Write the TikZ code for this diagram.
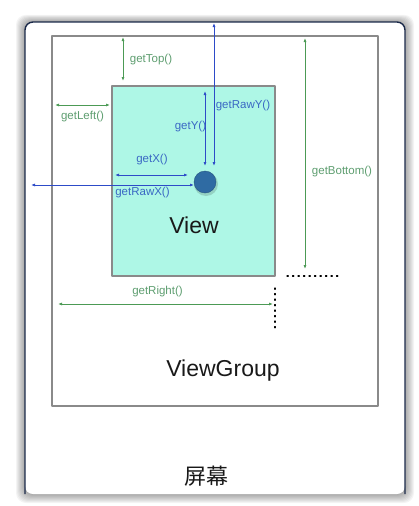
\documentclass[tikz,border=0pt]{standalone}
\usepackage{fontspec}
\setmainfont{Liberation Sans}
\newfontfamily\cjkfont{Noto Sans CJK SC}
\usetikzlibrary{arrows.meta,positioning}
\definecolor{ScreenNavy}{HTML}{1B2A4A}
\definecolor{BoxGray}{HTML}{8A8A8A}
\definecolor{ViewFill}{HTML}{AEF7E6}
\definecolor{TouchBlue}{HTML}{2F6BA3}
\definecolor{DimGreen}{HTML}{4C9A55}
\definecolor{LabelGreen}{HTML}{5E9E70}
\definecolor{DimBlue}{HTML}{2D4BC8}
\definecolor{LabelBlue}{HTML}{3A68C4}

\tikzset{
  dimline/.style={{Latex[length=4pt,width=3pt]}-{Latex[length=4pt,width=3pt]},line width=0.9pt},
  greendim/.style={dimline,DimGreen},
  bluedim/.style={dimline,DimBlue},
  greenlabel/.style={text=LabelGreen,font=\fontsize{11.5}{13}\selectfont,inner sep=1pt},
  bluelabel/.style={text=LabelBlue,font=\fontsize{11.5}{13}\selectfont,inner sep=1pt},
  bigtext/.style={font=\fontsize{23}{26}\selectfont,text=black!90},
  dotline/.style={line width=1.3pt,dash pattern=on 1.3pt off 4.2pt,line cap=round}
}

\begin{document}
\begin{tikzpicture}[x=1pt,y=-1pt,line join=round]
  \useasboundingbox (0,0) rectangle (418,506);
  % screen with soft shadow
  \foreach \s in {1,...,9}{
    \fill[black,opacity=0.045,rounded corners=10] (25-\s,22-0.8*\s) rectangle (405+\s,494+\s);
  }
  \fill[white,rounded corners=8] (25,22) rectangle (405,494);
  \draw[ScreenNavy,line width=1.4pt,rounded corners=8] (25,494) -- (25,22) -- (405,22) -- (405,494);
  % boxes
  \node[draw=BoxGray,line width=1.2pt,fill=white,minimum width=326,minimum height=370,inner sep=0] (vg) at (215,221) {};
  \node[draw=BoxGray,line width=1.2pt,fill=ViewFill,minimum width=163,minimum height=190,inner sep=0] (view) at (193.5,181) {};
  \fill[black,opacity=0.15] (206,184) circle (12);
  \node[circle,fill=TouchBlue,draw=TouchBlue!80!black,line width=0.4pt,minimum size=22,inner sep=0] (touch) at (205,182) {};
  % arrow ends
  \coordinate (topA) at (123,37);\coordinate (topB) at (123,81);
  \coordinate (leftA) at (55,105);\coordinate (leftB) at (110,105);
  \coordinate (rawyA) at (214,23);\coordinate (rawyB) at (214,166);
  \coordinate (yA) at (205,91);\coordinate (yB) at (205,166);
  \coordinate (xA) at (115,175);\coordinate (xB) at (188,175);
  \coordinate (rawxA) at (31,185);\coordinate (rawxB) at (194,185);
  \coordinate (botA) at (305,38);\coordinate (botB) at (305,269);
  \coordinate (rightA) at (58,304);\coordinate (rightB) at (273,304);
  \draw[greendim] (topA) -- (topB);
  \draw[greendim] (leftA) -- (leftB);
  \draw[greendim] (botA) -- (botB);
  \draw[greendim] (rightA) -- (rightB);
  \draw[bluedim] (rawyA) -- (rawyB);
  \draw[bluedim] (yA) -- (yB);
  \draw[bluedim] (xA) -- (xB);
  \draw[bluedim] (rawxA) -- (rawxB);
  % dotted guides
  \draw[dotline] (287,276) -- (341,276);
  \draw[dotline] (275,288) -- (275,330);
  % labels
  \node[greenlabel] (ltop) at (151,60) {getTop()};
  \node[greenlabel] (lleft) at (82.5,117) {getLeft()};
  \node[greenlabel] (lbot) at (342,172) {getBottom()};
  \node[greenlabel] (lright) at (157.5,292) {getRight()};
  \node[bluelabel] (lrawy) at (243,106) {getRawY()};
  \node[bluelabel] (ly) at (190.5,127) {getY()};
  \node[bluelabel] (lx) at (152,160) {getX()};
  \node[bluelabel] (lrawx) at (142.5,193) {getRawX()};
  \node[bigtext] (lview) at (194,225) {View};
  \node[bigtext] (lvg) at (223,371) {ViewGroup};
  \node[bigtext,font=\cjkfont\fontsize{22}{26}\selectfont] (lscreen) at (206,476) {屏幕};
\end{tikzpicture}
\end{document}
